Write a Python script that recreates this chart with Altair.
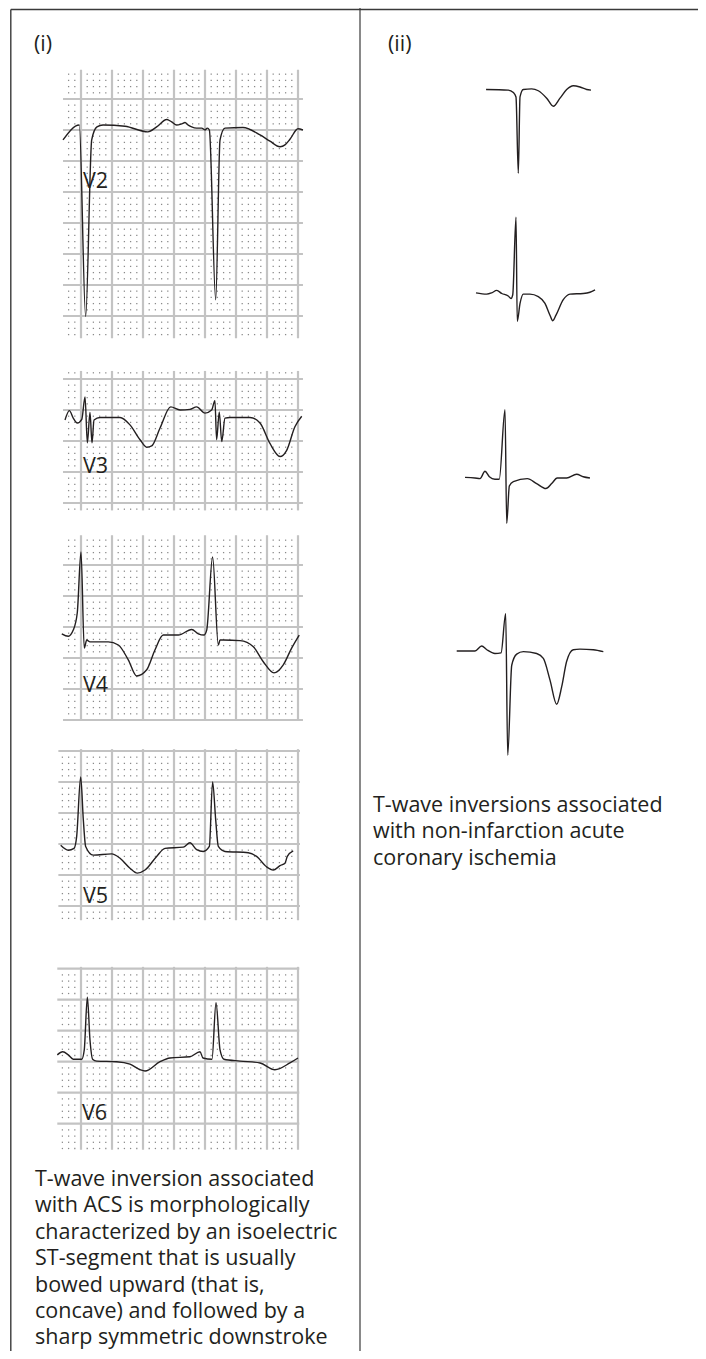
import math
import altair as alt
import pandas as pd

# ---------------- data ----------------
# Panel (i): precordial leads, time in ms, amplitude in mV
V2_MS = [-116, -11, 30, 69, 103, 142, 284, 432, 488, 553, 585, 617, 650, 671, 692, 714, 746, 779, 800, 815,
         828, 869, 897, 929, 1045, 1155, 1219, 1284, 1316, 1348, 1400, 1432]
V2_MV = [-0.16, 0.08, -3.01, -0.16, 0.05, 0.08, 0.06, -0.03, 0.05, 0.17, 0.13, 0.08, 0.10, 0.12, 0.08, 0.05,
         0.03, 0.03, 0.00, 0.03, 0.00, -2.74, -0.16, 0.03, 0.04, -0.08, -0.18, -0.27, -0.24, -0.15, 0.02, 0.00]

V3_MS = [-103, -75, -50, -24, 5, 26, 41, 58, 71, 84, 123, 252, 316, 381, 424, 456, 510, 579, 639, 703, 746,
         800, 843, 864, 875, 892, 908, 929, 961, 1090, 1155, 1219, 1284, 1327, 1380, 1424]
V3_MV = [-0.16, -0.01, -0.13, -0.21, -0.15, 0.21, -0.53, -0.04, -0.53, -0.16, -0.12, -0.12, -0.24, -0.48,
         -0.60, -0.58, -0.29, 0.05, 0.00, 0.01, 0.05, -0.05, 0.00, 0.15, -0.48, -0.03, -0.51, -0.13, -0.12,
         -0.12, -0.21, -0.54, -0.75, -0.65, -0.27, -0.10]

V4_MS = [-124, -82, -50, -24, 0, 21, 37, 58, 176, 241, 305, 359, 424, 477, 531, 628, 714, 757, 793, 811, 849,
         886, 897, 918, 1026, 1112, 1176, 1245, 1305, 1359, 1408]
V4_MV = [-0.11, -0.15, -0.05, 0.23, 1.21, -0.34, -0.21, -0.24, -0.24, -0.29, -0.53, -0.79, -0.69, -0.37,
         -0.13, -0.13, -0.04, -0.11, -0.13, -0.05, 1.13, -0.29, -0.21, -0.21, -0.22, -0.32, -0.56, -0.74,
         -0.61, -0.34, -0.13]

V5_MS = [-131, -82, -45, -28, -2, 15, 30, 79, 198, 252, 316, 363, 413, 488, 542, 660, 703, 746, 789, 828, 849,
         869, 886, 929, 1079, 1133, 1198, 1240, 1284, 1316, 1331, 1369]
V5_MV = [-0.02, -0.10, -0.07, 0.12, 1.08, 0.39, -0.04, -0.18, -0.16, -0.23, -0.39, -0.47, -0.42, -0.20,
         -0.07, -0.05, 0.02, -0.09, -0.12, -0.04, 1.00, 0.39, -0.04, -0.12, -0.14, -0.20, -0.37, -0.42,
         -0.35, -0.31, -0.20, -0.11]

V6_MS = [-153, -118, -82, -50, 5, 21, 41, 58, 75, 101, 230, 316, 381, 413, 510, 574, 703, 768, 787, 845, 871,
         897, 922, 1026, 1155, 1251, 1348, 1400]
V6_MV = [0.11, 0.16, 0.11, 0.04, 0.04, 0.19, 1.04, 0.35, 0.04, 0.01, 0.00, -0.04, -0.13, -0.15, 0.00, 0.06,
         0.08, 0.16, 0.06, 0.04, 0.95, 0.19, 0.04, 0.01, -0.02, -0.13, -0.02, 0.06]

# Panel (ii): four isolated complexes, time in ms from QRS, amplitude in mV
C1_MS = [-206, -63, -30, -13, 2, 13, 34, 88, 131, 185, 228, 271, 314, 357, 400, 443, 471]
C1_MV = [0.00, -0.01, -0.05, -0.12, -1.35, -0.12, 0.00, 0.01, -0.02, -0.14, -0.27, -0.14, 0.00, 0.06, 0.04,
         0.00, -0.01]
C2_MS = [-258, -189, -157, -124, -92, -50, -32, -21, 0, 8, 26, 47, 90, 144, 187, 219, 237, 258, 305, 348, 434,
         477, 510]
C2_MV = [0.01, -0.01, 0.01, 0.05, 0.00, -0.04, -0.08, -0.02, 1.23, -0.45, -0.16, -0.01, -0.01, -0.05, -0.16,
         -0.35, -0.44, -0.35, -0.10, -0.01, 0.00, 0.02, 0.06]
C3_MS = [-258, -194, -161, -129, -101, -65, -37, 0, 11, 28, 54, 144, 204, 264, 301, 337, 398, 462, 505, 548]
C3_MV = [0.01, 0.00, -0.01, 0.11, 0.02, -0.02, -0.02, 1.10, -0.73, -0.13, -0.06, -0.01, -0.09, -0.17, -0.09,
         0.00, 0.00, 0.06, 0.02, 0.00]
C4_MS = [-318, -200, -157, -124, -71, -32, -2, 11, 37, 69, 112, 198, 241, 284, 327, 359, 391, 434, 477, 563, 628]
C4_MV = [0.00, 0.00, 0.08, 0.02, -0.04, -0.03, 0.60, -1.68, -0.23, -0.05, -0.01, -0.04, -0.12, -0.47, -0.86,
         -0.58, -0.17, 0.02, 0.03, 0.02, -0.01]

PANEL_TITLES = ["(i)", "(ii)"]
LEAD_NAMES = ["V2", "V3", "V4", "V5", "V6"]
LEFT_TEXT = [
    "T-wave inversion associated",
    "with ACS is morphologically",
    "characterized by an isoelectric",
    "ST-segment that is usually",
    "bowed upward (that is,",
    "concave) and followed by a",
    "sharp symmetric downstroke",
]
RIGHT_TEXT = [
    "T-wave inversions associated",
    "with non-infarction acute",
    "coronary ischemia",
]

# ---------------- layout / style ----------------
M = 8                 # page margin
W, H = 690, 1343
MS_PX = 31 / 200      # px per ms
MV_PX = 62            # px per mV
INK = "#231f20"
LINE = "#3a3a3a"
GRID_MAJOR = "#c3c3c3"
GRID_DOT = "#8a8a8a"
FONT = "Open Sans"
FS = 21.5
LH = 26.4

STRIPS = [
    dict(ms=V2_MS, mv=V2_MV, t=(-116, 1432), v=(-3.36, 0.97), ox=81, oy=130, lab=(83, 188)),
    dict(ms=V3_MS, mv=V3_MV, t=(-116, 1432), v=(-1.62, 0.63), ox=81, oy=410, lab=(83, 473)),
    dict(ms=V4_MS, mv=V4_MV, t=(-116, 1432), v=(-1.50, 1.48), ox=81, oy=627, lab=(83, 692)),
    dict(ms=V5_MS, mv=V5_MV, t=(-146, 1413), v=(-1.23, 1.53), ox=81, oy=844, lab=(83, 903)),
    dict(ms=V6_MS, mv=V6_MV, t=(-153, 1408), v=(-1.42, 1.53), ox=81, oy=1061.7, lab=(82, 1120)),
]
COMPLEXES = [
    dict(ms=C1_MS, mv=C1_MV, ox=518, oy=89.5),
    dict(ms=C2_MS, mv=C2_MV, ox=516, oy=293.5),
    dict(ms=C3_MS, mv=C3_MV, ox=505, oy=478),
    dict(ms=C4_MS, mv=C4_MV, ox=506, oy=651),
]


def xscale(t0, t1, ox):
    return alt.Scale(domain=[t0, t1], range=[ox + t0 * MS_PX - M, ox + t1 * MS_PX - M], nice=False, zero=False)


def yscale(v0, v1, oy):
    return alt.Scale(domain=[v0, v1], range=[oy - v0 * MV_PX - M, oy - v1 * MV_PX - M], nice=False, zero=False)


layers = []

# frame lines
one = pd.DataFrame({"k": [0]})
layers.append(alt.Chart(one).mark_rule(color=LINE, strokeWidth=1.4).encode(
    x=alt.value(10.8 - M), x2=alt.value(W), y=alt.value(9.5 - M)))
layers.append(alt.Chart(one).mark_rule(color=LINE, strokeWidth=1.4).encode(
    x=alt.value(10.8 - M), y=alt.value(9.5 - M), y2=alt.value(H)))
layers.append(alt.Chart(one).mark_rule(color=LINE, strokeWidth=1.2).encode(
    x=alt.value(360 - M), y=alt.value(6 - M), y2=alt.value(H)))

# ECG strips with paper grid
for s, name in zip(STRIPS, LEAD_NAMES):
    t0, t1 = s["t"]
    v0, v1 = s["v"]
    xs = xscale(t0, t1, s["ox"])
    ys = yscale(v0, v1, s["oy"])
    ks = list(range(math.ceil(t0 / 40), math.floor(t1 / 40) + 1))
    js = list(range(math.ceil(v0 * 10 - 1e-9), math.floor(v1 * 10 + 1e-9) + 1))
    vdf = pd.DataFrame({"t": [k * 40 for k in ks if k % 5 == 0]})
    vdf["va"], vdf["vb"] = v0, v1
    hdf = pd.DataFrame({"v": [j / 10 for j in js if j % 5 == 0]})
    hdf["ta"], hdf["tb"] = t0, t1
    ddf = pd.DataFrame([(k * 40, j / 10) for k in ks if k % 5 for j in js if j % 5], columns=["t", "v"])
    tdf = pd.DataFrame({"ms": s["ms"], "mv": s["mv"]})

    layers.append(alt.Chart(ddf).mark_square(size=1.6, color=GRID_DOT, opacity=1).encode(
        x=alt.X("t:Q", scale=xs, axis=None), y=alt.Y("v:Q", scale=ys, axis=None)))
    layers.append(alt.Chart(vdf).mark_rule(color=GRID_MAJOR, strokeWidth=2.2).encode(
        x=alt.X("t:Q", scale=xs, axis=None), y=alt.Y("va:Q", scale=ys, axis=None), y2="vb:Q"))
    layers.append(alt.Chart(hdf).mark_rule(color=GRID_MAJOR, strokeWidth=2.2).encode(
        y=alt.Y("v:Q", scale=ys, axis=None), x=alt.X("ta:Q", scale=xs, axis=None), x2="tb:Q"))
    layers.append(alt.Chart(tdf).mark_line(color=INK, strokeWidth=1.4, interpolate="monotone").encode(
        x=alt.X("ms:Q", scale=xs, axis=None), y=alt.Y("mv:Q", scale=ys, axis=None)))
    layers.append(alt.Chart(pd.DataFrame({"s": [name]})).mark_text(
        font=FONT, fontSize=FS, color=INK, align="left", baseline="alphabetic").encode(
        x=alt.value(s["lab"][0] - M), y=alt.value(s["lab"][1] - M), text="s:N"))

# isolated complexes
for c in COMPLEXES:
    t0, t1 = min(c["ms"]), max(c["ms"])
    v0, v1 = min(c["mv"]), max(c["mv"])
    xs = xscale(t0, t1, c["ox"])
    ys = yscale(v0, v1, c["oy"])
    cdf = pd.DataFrame({"ms": c["ms"], "mv": c["mv"]})
    layers.append(alt.Chart(cdf).mark_line(color=INK, strokeWidth=1.4, interpolate="monotone").encode(
        x=alt.X("ms:Q", scale=xs, axis=None), y=alt.Y("mv:Q", scale=ys, axis=None)))

# texts
for title, xpos in zip(PANEL_TITLES, [34, 388]):
    layers.append(alt.Chart(pd.DataFrame({"s": [title]})).mark_text(
        font=FONT, fontSize=FS, color=INK, align="left", baseline="alphabetic").encode(
        x=alt.value(xpos - M), y=alt.value(51 - M), text="s:N"))

layers.append(alt.Chart(pd.DataFrame({"s": ["\n".join(LEFT_TEXT)]})).mark_text(
    font=FONT, fontSize=FS, color=INK, align="left", baseline="alphabetic", lineBreak="\n",
    lineHeight=LH).encode(x=alt.value(35 - M), y=alt.value(1186 - M), text="s:N"))
layers.append(alt.Chart(pd.DataFrame({"s": ["\n".join(RIGHT_TEXT)]})).mark_text(
    font=FONT, fontSize=FS, color=INK, align="left", baseline="alphabetic", lineBreak="\n",
    lineHeight=LH).encode(x=alt.value(373 - M), y=alt.value(812 - M), text="s:N"))

chart = alt.layer(*layers).resolve_scale(x="independent", y="independent").properties(
    width=W, height=H, padding=0, autosize=alt.AutoSizeParams(type="none")
).configure_view(stroke=None)

chart.save("out.html", embed_options={"renderer": "svg", "actions": False})
